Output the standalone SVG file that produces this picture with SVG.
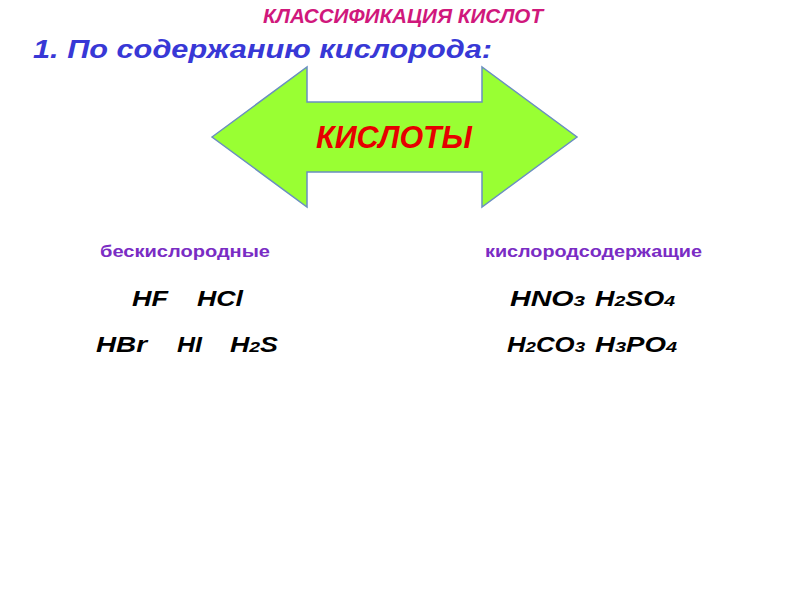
<svg xmlns="http://www.w3.org/2000/svg" width="800" height="600" viewBox="0 0 800 600">
<style>
text{font-family:"Liberation Sans",Arial,sans-serif;font-weight:bold}
.it{font-style:italic}
.f{fill:#000;font-size:21.5px;font-style:italic}
.s{font-size:15.5px}
.cat{fill:#7a2cc4;font-size:17px}
</style>
<rect width="800" height="600" fill="#fff"/>
<text class="it" x="263" y="23" fill="#d0187c" font-size="20" textLength="280" lengthAdjust="spacingAndGlyphs">КЛАССИФИКАЦИЯ КИСЛОТ</text>
<text class="it" x="33" y="58" fill="#3838d6" font-size="26.5" textLength="459" lengthAdjust="spacingAndGlyphs">1. По содержанию кислорода:</text>
<g id="arrow">
<polygon points="212,137 307,67 307,102 482,102 482,67 577,137 482,207 482,172 307,172 307,207" fill="#99ff33" stroke="#6a8fc0" stroke-width="1.5"/>
<text class="it" x="316" y="148" fill="#e60000" font-size="31" textLength="156" lengthAdjust="spacingAndGlyphs">КИСЛОТЫ</text>
</g>
<g id="left">
<text class="cat" x="100" y="257" textLength="170" lengthAdjust="spacingAndGlyphs">бескислородные</text>
<text class="f" x="132" y="306" textLength="36" lengthAdjust="spacingAndGlyphs">HF</text>
<text class="f" x="197" y="306" textLength="46" lengthAdjust="spacingAndGlyphs">HCl</text>
<text class="f" x="96" y="352" textLength="51" lengthAdjust="spacingAndGlyphs">HBr</text>
<text class="f" x="177" y="352" textLength="25" lengthAdjust="spacingAndGlyphs">HI</text>
<text class="f" x="230" y="352" textLength="48" lengthAdjust="spacingAndGlyphs">H<tspan class="s">2</tspan>S</text>
</g>
<g id="right">
<text class="cat" x="485" y="257" textLength="217" lengthAdjust="spacingAndGlyphs">кислородсодержащие</text>
<text class="f" x="510" y="306" textLength="75" lengthAdjust="spacingAndGlyphs">HNO<tspan class="s">3</tspan></text>
<text class="f" x="595" y="306" textLength="80" lengthAdjust="spacingAndGlyphs">H<tspan class="s">2</tspan>SO<tspan class="s">4</tspan></text>
<text class="f" x="507" y="352" textLength="78" lengthAdjust="spacingAndGlyphs">H<tspan class="s">2</tspan>CO<tspan class="s">3</tspan></text>
<text class="f" x="595" y="352" textLength="82" lengthAdjust="spacingAndGlyphs">H<tspan class="s">3</tspan>PO<tspan class="s">4</tspan></text>
</g>
</svg>
